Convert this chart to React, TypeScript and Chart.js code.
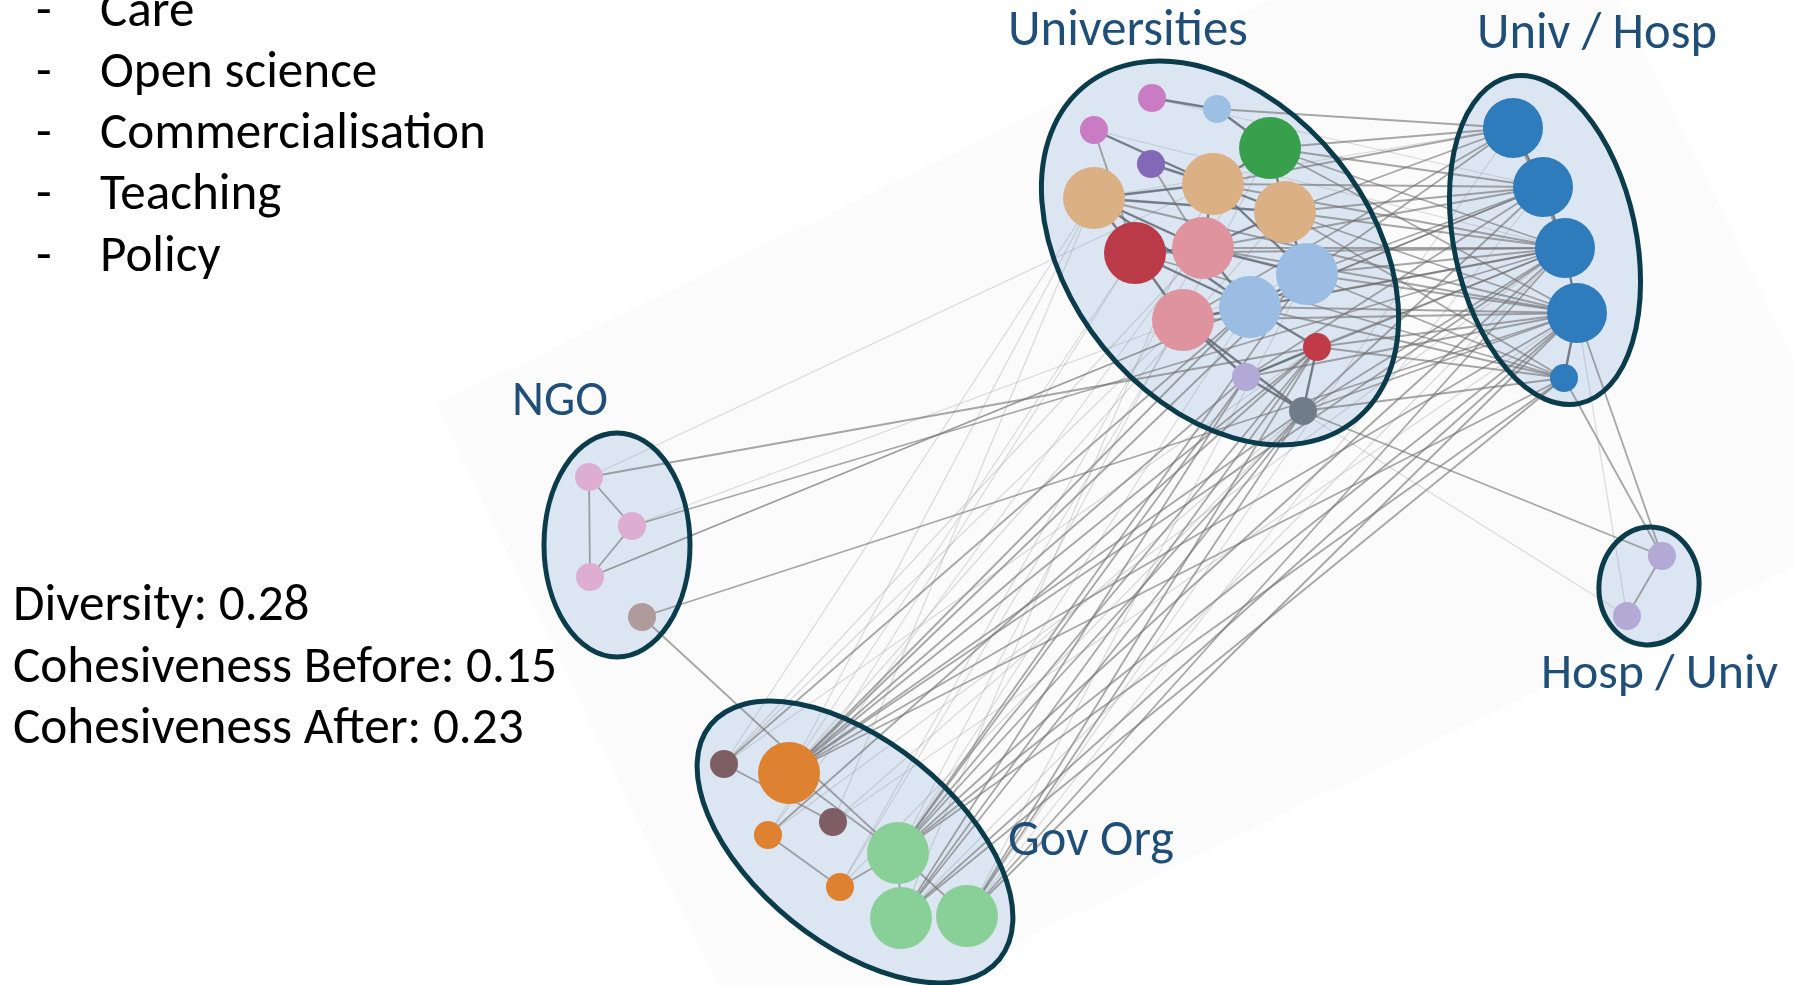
import React, { useEffect, useRef } from "react";
import { Chart, registerables } from "chart.js";

Chart.register(...registerables);

const W = 1793;
const H = 985;

// ---- Nodes (x, y in page pixel units, r = bubble radius) ----
// 0-15 Universities, 16-20 Univ/Hosp, 21-24 NGO, 25-32 Gov Org, 33-34 Hosp/Univ
const nodeX = [1152, 1217, 1094, 1270, 1151, 1094, 1213, 1285, 1135, 1203, 1307, 1250, 1183, 1317, 1246, 1303,
  1513, 1543, 1565, 1577, 1564,
  589, 632, 590, 642,
  724, 789, 833, 768, 840, 898, 901, 967,
  1662, 1627];
const nodeY = [98, 109, 130, 148, 164, 198, 184, 212, 253, 248, 274, 307, 320, 347, 377, 411,
  128, 187, 248, 313, 378,
  477, 526, 577, 617,
  764, 773, 822, 835, 887, 853, 918, 916,
  556, 616];
const nodeR = [14, 14, 14, 31, 14, 31, 31, 31, 31, 31, 31, 31, 31, 14, 14, 14,
  30, 30, 30, 30, 14,
  14, 14, 14, 14,
  14, 31, 14, 14, 14, 31, 31, 31,
  14, 14];
const nodeColor = ["#c97cc4", "#9dbfe3", "#c97cc4", "#38a04c", "#8468b8", "#dcb085", "#dcb085", "#dcb085",
  "#ba3a48", "#de939e", "#9bbde3", "#9bbde3", "#de939e", "#c03a48", "#b3a9d6", "#707d89",
  "#2e7cbc", "#2e7cbc", "#2e7cbc", "#2e7cbc", "#2e7cbc",
  "#ddaed1", "#ddaed1", "#ddaed1", "#b09b9c",
  "#7e5e63", "#de8232", "#7e5e63", "#de8232", "#de8232", "#89cf98", "#89cf98", "#89cf98",
  "#b3a9d5", "#b3a9d5"];

// ---- Edges: [source, target, strength 1 faint / 2 medium / 3 strong] ----
const edges: [number, number, number][] = [
  // Universities internal
  [0, 1, 3], [1, 3, 3], [2, 6, 3], [4, 6, 3], [5, 6, 3], [5, 9, 3], [5, 8, 3], [5, 7, 3], [6, 7, 3], [6, 3, 3],
  [6, 9, 3], [7, 9, 3], [8, 9, 3], [8, 12, 3], [9, 11, 3], [9, 10, 3], [11, 12, 3], [11, 10, 3], [11, 13, 3],
  [12, 14, 3], [14, 13, 3], [14, 15, 3], [7, 10, 3], [3, 7, 3], [5, 11, 3], [8, 11, 3], [12, 15, 3], [13, 15, 3],
  [6, 10, 3], [2, 8, 2], [4, 9, 2],
  // Univ/Hosp internal
  [16, 17, 3], [17, 18, 3], [18, 19, 3], [19, 20, 3], [16, 18, 2],
  // Universities - Univ/Hosp
  [3, 16, 2], [3, 17, 2], [3, 18, 2], [3, 19, 2], [7, 16, 2], [7, 17, 2], [7, 18, 2], [7, 19, 2], [7, 20, 2],
  [10, 16, 2], [10, 17, 2], [10, 18, 2], [10, 19, 2], [10, 20, 2], [11, 17, 2], [11, 18, 2], [11, 19, 2],
  [13, 18, 2], [13, 19, 2], [13, 20, 2], [15, 17, 2], [15, 18, 2], [15, 19, 2], [15, 20, 2], [6, 17, 2],
  [6, 18, 2], [9, 18, 2], [9, 19, 2], [5, 19, 2], [8, 18, 2], [12, 19, 2], [12, 16, 2], [14, 18, 2], [14, 19, 2],
  [2, 18, 1], [1, 16, 2], [0, 17, 1], [5, 16, 1], [8, 20, 2], [6, 16, 2], [9, 17, 2], [12, 18, 2], [14, 17, 2],
  [11, 20, 2],
  // Gov Org - Universities / Univ/Hosp
  [26, 15, 2], [26, 13, 2], [26, 11, 2], [26, 10, 2], [26, 18, 2], [26, 19, 2], [26, 14, 2], [26, 20, 2],
  [26, 7, 1], [26, 5, 1], [26, 8, 1], [25, 11, 2], [25, 13, 1], [25, 9, 1], [27, 15, 1], [27, 19, 1],
  [28, 13, 2], [28, 18, 1], [29, 15, 1], [30, 15, 2], [30, 13, 2], [30, 14, 2], [30, 18, 2], [30, 19, 2],
  [30, 20, 2], [30, 10, 2], [30, 11, 1], [31, 15, 2], [31, 14, 2], [31, 13, 2], [31, 19, 2], [31, 18, 1],
  [31, 20, 2], [32, 15, 2], [32, 13, 2], [32, 19, 2], [32, 18, 2], [32, 17, 1], [32, 16, 1], [32, 10, 1],
  [25, 5, 1], [28, 8, 1], [25, 12, 1], [29, 9, 1], [31, 6, 1], [27, 5, 1], [28, 3, 1], [30, 3, 1], [29, 12, 1],
  // Gov Org internal
  [25, 27, 2], [28, 29, 2], [29, 30, 2], [26, 30, 2], [30, 32, 2], [31, 30, 2],
  // NGO
  [21, 22, 2], [21, 23, 2], [22, 23, 2], [21, 13, 2], [22, 18, 2], [23, 17, 2], [24, 19, 2], [24, 30, 2],
  [22, 10, 1], [23, 11, 1], [21, 6, 1],
  // Hosp/Univ
  [33, 34, 2], [15, 33, 2], [14, 34, 1], [20, 33, 2], [19, 33, 2], [19, 34, 1],
];

const edgeColor = ["", "rgba(140,140,140,0.3)", "rgba(110,110,110,0.6)", "rgba(98,106,116,0.85)"];
const edgeWidth = [0, 1.2, 1.8, 2.4];

// ---- Group ellipses ----
const groupNames = ["Universities", "Univ / Hosp", "NGO", "Gov Org", "Hosp / Univ"];
const ellipseCx = [1220, 1545, 617, 855, 1649];
const ellipseCy = [253, 240, 545, 842, 586];
const ellipseA = [215, 167, 112, 186, 59];
const ellipseB = [150, 91, 73, 101, 50];
const ellipseAngle = [51, 78, 90, 39, 95];

// group label placement (left x, baseline y, target width)
const labelX = [1008, 1477, 512, 1008, 1541];
const labelY = [45, 48, 415, 855, 688];
const labelW = [240, 240, 96, 166, 237];

// ---- Background rotated panel ----
const bgX = [436, 1553, 1875, 758];
const bgY = [405, -138, 527, 1068];

// ---- Text blocks ----
const listItems = ["Care", "Open science", "Commercialisation", "Teaching", "Policy"];
const listBaselines = [26, 87, 148, 209, 271];
const statLines = ["Diversity: 0.28", "Cohesiveness Before: 0.15", "Cohesiveness After: 0.23"];
const statBaselines = [620, 682, 743];

const FAMILY = '"Carlito", "Lato", "Open Sans", sans-serif';

function fitSize(ctx: CanvasRenderingContext2D, text: string, target: number) {
  ctx.font = `100px ${FAMILY}`;
  const w = ctx.measureText(text).width;
  return (100 * target) / w;
}

const overlayPlugin = {
  id: "overlay",
  beforeDatasetsDraw(chart: any) {
    const ctx: CanvasRenderingContext2D = chart.ctx;
    const xs = chart.scales.x;
    const ys = chart.scales.y;
    ctx.save();
    ctx.beginPath();
    bgX.forEach((x, i) => {
      const X = xs.getPixelForValue(x);
      const Y = ys.getPixelForValue(bgY[i]);
      if (i === 0) ctx.moveTo(X, Y);
      else ctx.lineTo(X, Y);
    });
    ctx.closePath();
    ctx.fillStyle = "#fbfbfb";
    ctx.fill();
    for (let i = 0; i < ellipseCx.length; i++) {
      const cx = xs.getPixelForValue(ellipseCx[i]);
      const cy = ys.getPixelForValue(ellipseCy[i]);
      const a = Math.abs(xs.getPixelForValue(ellipseCx[i] + ellipseA[i]) - cx);
      const b = Math.abs(ys.getPixelForValue(ellipseCy[i] + ellipseB[i]) - cy);
      ctx.beginPath();
      ctx.ellipse(cx, cy, a, b, (ellipseAngle[i] * Math.PI) / 180, 0, Math.PI * 2);
      ctx.fillStyle = "#dce6f2";
      ctx.fill();
    }
    ctx.restore();
  },
  afterDatasetsDraw(chart: any) {
    const ctx: CanvasRenderingContext2D = chart.ctx;
    const xs = chart.scales.x;
    const ys = chart.scales.y;
    ctx.save();
    for (let i = 0; i < ellipseCx.length; i++) {
      const cx = xs.getPixelForValue(ellipseCx[i]);
      const cy = ys.getPixelForValue(ellipseCy[i]);
      const a = Math.abs(xs.getPixelForValue(ellipseCx[i] + ellipseA[i]) - cx);
      const b = Math.abs(ys.getPixelForValue(ellipseCy[i] + ellipseB[i]) - cy);
      ctx.beginPath();
      ctx.ellipse(cx, cy, a, b, (ellipseAngle[i] * Math.PI) / 180, 0, Math.PI * 2);
      ctx.strokeStyle = "#0b3c4c";
      ctx.lineWidth = 5;
      ctx.stroke();
    }
    ctx.restore();
  },
  afterDraw(chart: any) {
    const ctx: CanvasRenderingContext2D = chart.ctx;
    const xs = chart.scales.x;
    const ys = chart.scales.y;
    ctx.save();
    ctx.textBaseline = "alphabetic";
    ctx.textAlign = "left";
    // group labels
    ctx.fillStyle = "#1f4e79";
    groupNames.forEach((t, i) => {
      const s = fitSize(ctx, t, labelW[i]);
      ctx.font = `${s}px ${FAMILY}`;
      ctx.fillText(t, xs.getPixelForValue(labelX[i]), ys.getPixelForValue(labelY[i]));
    });
    // bullet list
    ctx.fillStyle = "#000000";
    const ls = fitSize(ctx, "Commercialisation", 386);
    ctx.font = `${ls}px ${FAMILY}`;
    listItems.forEach((t, i) => {
      const y = ys.getPixelForValue(listBaselines[i]);
      ctx.fillText("-", xs.getPixelForValue(36), y);
      ctx.fillText(t, xs.getPixelForValue(100), y);
    });
    // stats
    const ss = fitSize(ctx, statLines[1], 544);
    ctx.font = `${ss}px ${FAMILY}`;
    statLines.forEach((t, i) => {
      ctx.fillText(t, xs.getPixelForValue(13), ys.getPixelForValue(statBaselines[i]));
    });
    ctx.restore();
  },
};

export default function App() {
  const ref = useRef<HTMLCanvasElement>(null);

  useEffect(() => {
    const canvas = ref.current;
    if (!canvas) return;

    const edgeDatasets = edges.map(([s, t, k]) => ({
      type: "scatter" as const,
      data: [
        { x: nodeX[s], y: nodeY[s] },
        { x: nodeX[t], y: nodeY[t] },
      ],
      showLine: true,
      borderColor: edgeColor[k],
      borderWidth: edgeWidth[k],
      pointRadius: 0,
      pointHoverRadius: 0,
      clip: false as any,
      order: 4 - k,
    }));

    const nodeDataset = {
      type: "bubble" as const,
      data: nodeX.map((x, i) => ({ x, y: nodeY[i], r: nodeR[i] })),
      backgroundColor: nodeColor,
      borderWidth: 0,
      clip: false as any,
      order: 0,
    };

    const chart = new Chart(canvas, {
      type: "scatter",
      data: { datasets: [nodeDataset as any, ...edgeDatasets] },
      options: {
        responsive: false,
        animation: false,
        devicePixelRatio: 1,
        events: [],
        layout: { padding: 0, autoPadding: false },
        scales: {
          x: { type: "linear", min: 0, max: W, display: false },
          y: { type: "linear", min: 0, max: H, reverse: true, display: false },
        },
        plugins: {
          legend: { display: false },
          tooltip: { enabled: false },
        },
      },
      plugins: [overlayPlugin],
    });

    return () => chart.destroy();
  }, []);

  return (
    <div style={{ position: "absolute", left: 0, top: 0, width: W, height: H, background: "#ffffff" }}>
      <canvas ref={ref} width={W} height={H} style={{ width: W, height: H, display: "block" }} />
    </div>
  );
}
